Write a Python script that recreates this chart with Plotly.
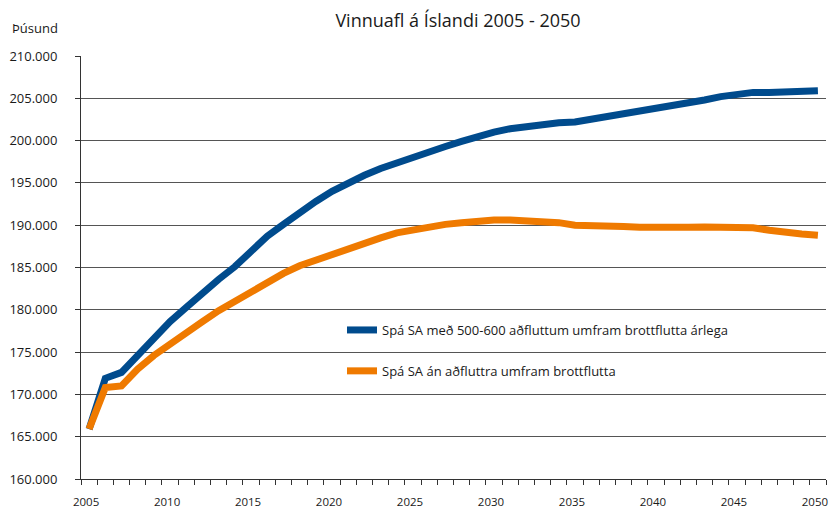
import plotly.graph_objects as go

years = list(range(2005, 2051))

# Labour force, thousands
spa_med = [165.9, 171.9, 172.6, 174.7, 176.7, 178.6, 180.3, 182.0, 183.6, 185.1,
           186.9, 188.7, 190.1, 191.5, 192.8, 194.0, 195.0, 195.9, 196.7, 197.4,
           198.1, 198.8, 199.3, 199.9, 200.5, 201.0, 201.4, 201.7, 202.0, 202.1,
           202.2, 202.5, 202.8, 203.1, 203.4, 203.7, 204.05, 204.4, 204.8, 205.2,
           205.5, 205.7, 205.7, 205.7, 205.8, 205.9]
spa_an = [165.9, 170.8, 171.0, 173.0, 174.6, 176.0, 177.3, 178.6, 179.9, 181.0,
          182.3, 183.4, 184.3, 185.2, 185.9, 186.6, 187.3, 187.9, 188.5, 189.1,
          189.5, 189.85, 190.1, 190.3, 190.5, 190.6, 190.6, 190.55, 190.5, 190.3,
          190.0, 190.0, 189.95, 189.85, 189.75, 189.7, 189.65, 189.75, 189.8, 189.8,
          189.8, 189.7, 189.4, 189.1, 188.95, 188.8]

names = ["Spá SA með 500-600 aðfluttum umfram brottflutta árlega",
         "Spá SA án aðfluttra umfram brottflutta"]
colors = ["#004B8D", "#EF7A00"]

x_tickvals = [2005, 2010, 2015, 2020, 2025, 2030, 2035, 2040, 2045, 2050]
y_tickvals = list(range(160, 211, 5))

font = "Open Sans"
W, H = 830, 510
# plot area in pixels
SX0, SX1, SY0, SY1 = 81, 826, 56, 479
L, R, T, B = SX0, W - SX1, SY0, H - SY1
PW, PH = SX1 - SX0, SY1 - SY0


def px(sx):
    return (sx - SX0) / PW


def py(sy):
    return (SY1 - sy) / PH


fig = go.Figure()
for i, (vals, nm, col) in enumerate(zip([spa_med, spa_an], names, colors)):
    fig.add_trace(go.Scatter(
        x=years, y=[v * 1000 for v in vals], mode="lines", name=nm,
        line=dict(color=col, width=7), legendgroup=f"g{i}",
    ))

fig.update_layout(
    width=W, height=H,
    margin=dict(l=L, r=R, t=T, b=B, autoexpand=False),
    paper_bgcolor="white", plot_bgcolor="white",
    separators=",.",
    font=dict(family=font, size=13, color="#1a1a1a"),
    title=dict(text="Vinnuafl á Íslandi 2005 - 2050", x=px(458), xref="paper",
               xanchor="center", y=1 - 21 / H, yanchor="middle",
               font=dict(family=font, size=18, color="#1a1a1a")),
    showlegend=True,
    legend=dict(x=px(342), y=py(315), xref="paper", yref="paper",
                xanchor="left", yanchor="top", bgcolor="rgba(0,0,0,0)",
                font=dict(family=font, size=13, color="#1a1a1a"),
                tracegroupgap=21, traceorder="grouped", itemwidth=30),
    xaxis=dict(range=[2004.5, 2050.5], tickvals=x_tickvals, ticktext=[str(v) for v in x_tickvals],
               ticks="", showgrid=False, showline=True, linecolor="#333", linewidth=1,
               zeroline=False, automargin=False,
               tickfont=dict(family=font, size=11.5, color="#1a1a1a"),
               ticklabelstandoff=12, ticklabelshift=-3, ticklabeloverflow="allow",
               minor=dict(tick0=2004.5, dtick=1, ticks="outside", ticklen=5,
                          tickcolor="#333", showgrid=False)),
    yaxis=dict(range=[160000, 210000], tickvals=[v * 1000 for v in y_tickvals],
               tickformat=",d", ticks="outside", ticklen=5, tickcolor="#333",
               showgrid=True, gridcolor="#555", gridwidth=1, automargin=False,
               showline=True, linecolor="#333", linewidth=1, zeroline=False,
               tickfont=dict(family=font, size=13, color="#1a1a1a"), ticklabelstandoff=15),
    annotations=[dict(text="Þúsund", x=px(10), y=py(28),
                      xref="paper", yref="paper",
                      showarrow=False, font=dict(family=font, size=13, color="#1a1a1a"),
                      xanchor="left", yanchor="middle")],
)

fig.write_html("out.html",
               config={"displayModeBar": False},
               post_script="document.body.style.margin='0';document.body.style.overflow='hidden';")
